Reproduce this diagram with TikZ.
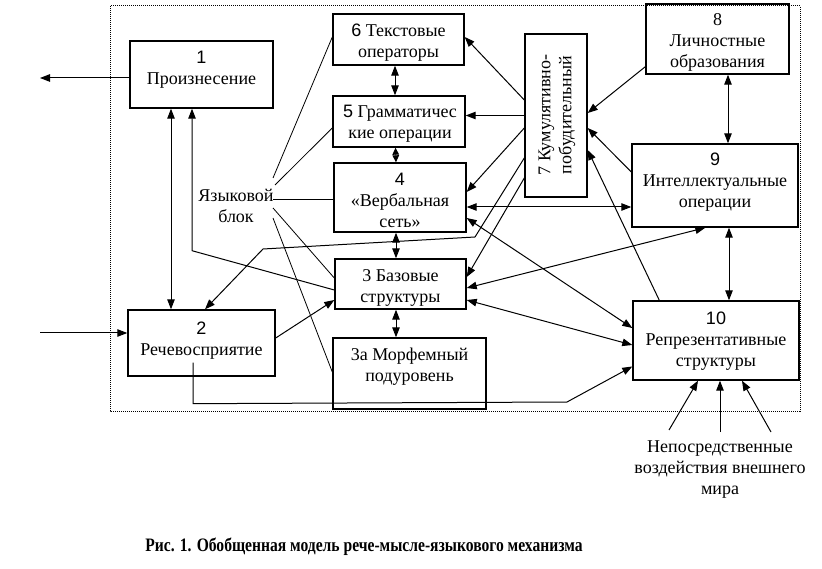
\documentclass[tikz,border=0pt]{standalone}
\usepackage{fontspec}
\setmainfont{Liberation Serif}
\newfontfamily\digitfont{Liberation Sans}
\newfontfamily\capfont[FakeStretch=0.82]{Liberation Serif}
\usetikzlibrary{arrows.meta,calc}
\begin{document}
\begin{tikzpicture}[x=1pt,y=-1pt,
  box/.style={draw,line width=1.4pt,inner sep=0pt},
  lbl/.style={font=\fontsize{18}{21}\selectfont,align=center,inner sep=0pt},
  arr/.style={-{Triangle[length=10pt,width=7.5pt]},line width=1pt},
  darr/.style={{Triangle[length=10pt,width=7.5pt]}-{Triangle[length=10pt,width=7.5pt]},line width=1pt},
  sdarr/.style={{Triangle[length=7pt,width=6.5pt]}-{Triangle[length=7pt,width=6.5pt]},line width=1pt},
  ln/.style={line width=0.8pt}]
\useasboundingbox (0,0) rectangle (822,569);
\draw[densely dotted,line width=1pt] (110,6) rectangle (800,411);
% boxes
\node[box,minimum width=143pt,minimum height=67pt] (b1) at (201.5,74.5) {};
\node[box,minimum width=147pt,minimum height=66pt] (b2) at (201.5,343) {};
\node[box,minimum width=131pt,minimum height=50pt] (b3) at (400.5,284) {};
\node[box,minimum width=153pt,minimum height=71pt] (b3a) at (409.5,373.5) {};
\node[box,minimum width=132pt,minimum height=69pt] (b4) at (400,197.5) {};
\node[box,minimum width=132pt,minimum height=51pt] (b5) at (399,121.5) {};
\node[box,minimum width=131pt,minimum height=51pt] (b6) at (398.5,39.5) {};
\node[box,minimum width=62pt,minimum height=163pt] (b7) at (556,115.5) {};
\node[box,minimum width=143pt,minimum height=70pt] (b8) at (717.5,39) {};
\node[box,minimum width=166pt,minimum height=83pt] (b9) at (715,185.5) {};
\node[box,minimum width=166pt,minimum height=79pt] (b10) at (716,340.5) {};
% texts
\node[lbl] (t1) at (201.5,69.5) {{\digitfont 1}\\Произнесение};
\node[lbl] (t2) at (201.5,341) {{\digitfont 2}\\Речевосприятие};
\node[lbl] (t3) at (400.5,288) {3 Базовые\\структуры};
\node[lbl] (t3a) at (409.5,367) {3а Морфемный\\подуровень};
\node[lbl] (t4) at (400,200.5) {{\digitfont 4}\\«Вербальная\\сеть»};
\node[lbl] (t5) at (400,124) {{\digitfont 5} Грамматичес\\кие операции};
\node[lbl] (t6) at (398.5,42.5) {{\digitfont 6} Текстовые\\операторы};
\node[lbl,rotate=90] (t7) at (557,115) {7 Кумулятивно-\\побудительный};
\node[lbl] (t8) at (717.5,42.5) {8\\Личностные\\образования};
\node[lbl] (t9) at (715,182.5) {{\digitfont 9}\\Интеллектуальные\\операции};
\node[lbl] (t10) at (716,341) {{\digitfont 10}\\Репрезентативные\\структуры};
\node[lbl] (lb) at (236,206) {Языковой\\блок};
\node[lbl] (ext) at (720,470) {Непосредственные\\воздействия внешнего\\мира};
\node[font=\capfont\bfseries\fontsize{19}{22}\selectfont,inner sep=0pt] (cap) at (364,547) {Рис. 1. Обобщенная модель рече-мысле-языкового механизма};
% free ends
\coordinate (out1) at (40,78);
\coordinate (in2) at (40,333);
\coordinate (w1) at (669,430);
\coordinate (w2) at (720,432);
\coordinate (w3) at (771,432);
\coordinate (j1) at (273,178);
\coordinate (j2) at (275,185);
\coordinate (j3) at (273,199);
\coordinate (j4) at (273,208);
\coordinate (j5) at (273,218);
% connectors
\draw[arr] ($(b1.west)+(0,3.5)$) -- (out1);
\draw[arr] (in2) -- ($(b2.west)+(0,-10)$);
\draw[darr] ($(b1.south)+(-30.5,0)$) -- ($(b2.north)+(-30.5,0)$);
\draw[arr] ($(b3.west)+(0,6)$) -- ($(b1.south)+(-9.5,142)$) -- ($(b1.south)+(-9.5,0)$);
\draw[arr] ($(b2.east)+(0,-5)$) -- ($(b3.west)+(0,16)$);
\draw[arr] ($(b7.west)+(0,42.5)$) -- (475,237) -- (263,249) -- ($(b2.north)+(3.5,0)$);
\draw[arr] ($(b2.south)+(-8.5,-14)$) -- ($(b2.south)+(-8.5,27)$) -- (567,402) -- ($(b10.west)+(0,26)$);
\draw[darr] ($(b6.south)+(-3.5,0)$) -- ($(b5.north)+(-4,0)$);
\draw[sdarr] ($(b5.south)+(-3.5,0)$) -- ($(b4.north)+(-4,0)$);
\draw[darr] ($(b4.south)+(-4,0)$) -- ($(b3.north)+(-4.5,0)$);
\draw[darr] ($(b3.south)+(-4.5,0)$) -- ($(b3a.north)+(-13.5,0)$);
\draw[darr] ($(b8.south)+(10.5,0)$) -- ($(b9.north)+(13,0)$);
\draw[darr] ($(b9.south)+(14,0)$) -- ($(b10.north)+(13,0)$);
\draw[arr] ($(b7.west)+(0,-15.5)$) -- ($(b6.east)+(0,-2.5)$);
\draw[arr] (b7.west) -- (b7.west -| b5.east);
\draw[arr] ($(b7.west)+(0,12.5)$) -- ($(b4.east)+(0,-5.5)$);
\draw[arr] ($(b7.west)+(0,62.5)$) -- ($(b3.east)+(0,-7)$);
\draw[arr] ($(b8.south west)+(0,-8)$) -- ($(b7.east)+(0,-2.5)$);
\draw[arr] ($(b9.west)+(0,-13.5)$) -- ($(b7.east)+(0,12.5)$);
\draw[arr] ($(b10.north west)+(27,0)$) -- ($(b7.east)+(0,34.5)$);
\draw[darr] ($(b4.east)+(0,9.5)$) -- ($(b9.west)+(0,21.5)$);
\draw[darr] ($(b4.east)+(0,20.5)$) -- ($(b10.west)+(0,-12.5)$);
\draw[darr] ($(b3.east)+(0,4)$) -- ($(b9.south west)+(74,0)$);
\draw[darr] ($(b3.east)+(0,16)$) -- ($(b10.west)+(0,4.5)$);
\draw[arr] (w1) -- ($(b10.south)+(-18,0)$);
\draw[arr] (w2) -- ($(b10.south)+(4,0)$);
\draw[arr] (w3) -- ($(b10.south)+(26,0)$);
% language block lines
\draw[ln] (j1) -- ($(b6.west)+(0,-2.5)$);
\draw[ln] (j2) -- ($(b5.west)+(0,6.5)$);
\draw[ln] (j3) -- ($(b4.west)+(0,1.5)$);
\draw[ln] (j4) -- ($(b3.west)+(0,-6)$);
\draw[ln] (j5) -- ($(b3a.west)+(0,-1.5)$);
\end{tikzpicture}
\end{document}
